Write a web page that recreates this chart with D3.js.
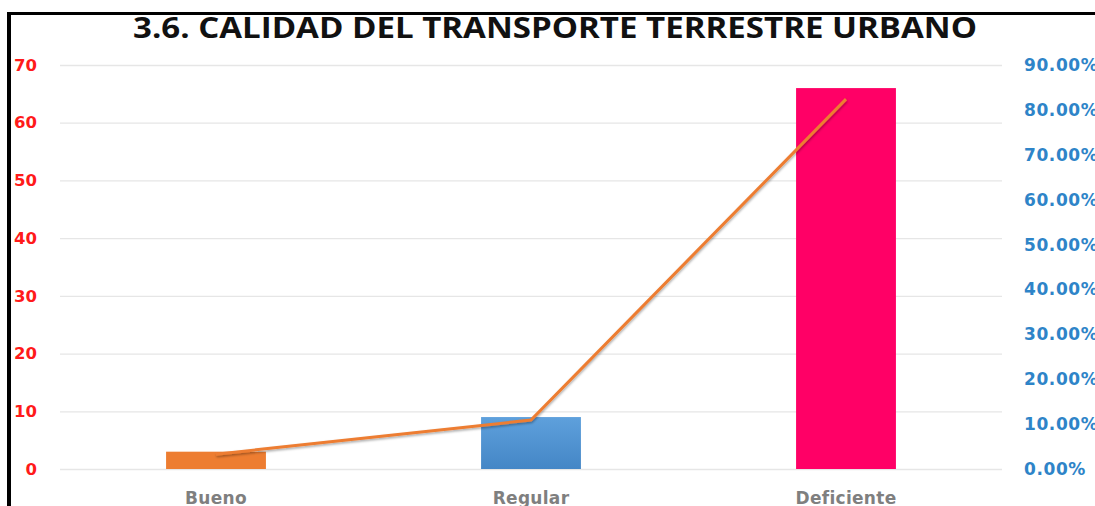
<!DOCTYPE html>
<html>
<head>
<meta charset="utf-8">
<script src="https://cdn.jsdelivr.net/npm/d3@7"></script>
<style>
  body { margin: 0; background: #fff; }
  svg { display: block; }
</style>
</head>
<body>
<svg id="chart"></svg>
<script>
// data
var categories = ["Bueno", "Regular", "Deficiente"];
var counts = [3, 9, 66];
var percents = [0.033, 0.109, 0.824];
var leftTicks = [0, 10, 20, 30, 40, 50, 60, 70];
var rightTicks = [0, 0.1, 0.2, 0.3, 0.4, 0.5, 0.6, 0.7, 0.8, 0.9];
var barColors = ["#ED7D31", "url(#blueGrad)", "#FF0066"];

var width = 1095, height = 506;
var svg = d3.select("#chart").attr("width", width).attr("height", height);

var defs = svg.append("defs");
var grad = defs.append("linearGradient").attr("id", "blueGrad")
  .attr("x1", 0).attr("y1", 0).attr("x2", 0).attr("y2", 1);
grad.append("stop").attr("offset", "0%").attr("stop-color", "#5EA0DC");
grad.append("stop").attr("offset", "100%").attr("stop-color", "#4486C6");

var shadow = defs.append("filter").attr("id", "shadow")
  .attr("x", "-10%").attr("y", "-10%").attr("width", "120%").attr("height", "130%");
shadow.append("feDropShadow").attr("dx", 0.5).attr("dy", 1.5)
  .attr("stdDeviation", 1).attr("flood-color", "#000").attr("flood-opacity", 0.35);

var x = d3.scaleBand().domain(categories).range([58.5, 1003.5]).paddingInner(0.683).paddingOuter(0.3415);
var yL = d3.scaleLinear().domain([0, 70]).range([469, 65]);
var yR = d3.scaleLinear().domain([0, 0.9]).range([469, 65]);

// gridlines
svg.append("g").selectAll("line").data(leftTicks).enter().append("line")
  .attr("x1", 60).attr("x2", 1002)
  .attr("y1", d => yL(d) + 0.5).attr("y2", d => yL(d) + 0.5)
  .attr("stroke", "#e6e6e6").attr("stroke-width", 1.3);

// left axis
var leftAxis = svg.append("g").attr("transform", "translate(37,0)")
  .call(d3.axisLeft(yL).tickValues(leftTicks).tickSize(0).tickPadding(0));
leftAxis.select(".domain").remove();
leftAxis.selectAll("text")
  .attr("fill", "#FF1A1A").attr("font-family", "'DejaVu Sans', sans-serif")
  .attr("font-weight", "bold").attr("font-size", "16.5px");

// right axis
var rightAxis = svg.append("g").attr("transform", "translate(1024,0)")
  .call(d3.axisRight(yR).tickValues(rightTicks).tickSize(0).tickPadding(0)
    .tickFormat(d => (d * 100).toFixed(2) + "%"));
rightAxis.select(".domain").remove();
rightAxis.selectAll("text")
  .attr("fill", "#2E84C8").attr("font-family", "'DejaVu Sans', sans-serif")
  .attr("font-weight", "bold").attr("font-size", "17px")
  .attr("letter-spacing", "0.6px");

// bars
svg.append("g").selectAll("rect").data(counts).enter().append("rect")
  .attr("x", (d, i) => x(categories[i]))
  .attr("y", d => yL(d))
  .attr("width", x.bandwidth())
  .attr("height", d => yL(0) - yL(d))
  .attr("fill", (d, i) => barColors[i]);

// x labels
svg.append("g").selectAll("text").data(categories).enter().append("text")
  .attr("x", d => x(d) + x.bandwidth() / 2)
  .attr("y", 504)
  .attr("text-anchor", "middle")
  .attr("fill", "#7F7F7F")
  .attr("font-family", "'DejaVu Sans', sans-serif")
  .attr("font-weight", "bold").attr("font-size", "17px")
  .attr("letter-spacing", "0.3px")
  .text(d => d);

// percentage line
var line = d3.line()
  .x((d, i) => x(categories[i]) + x.bandwidth() / 2)
  .y(d => yR(d));
svg.append("path").datum(percents)
  .attr("d", line)
  .attr("fill", "none")
  .attr("stroke", "#ED7D31")
  .attr("stroke-width", 3)
  .attr("filter", "url(#shadow)");

// title
svg.append("text")
  .attr("x", 555).attr("y", 38)
  .attr("text-anchor", "middle")
  .attr("font-family", "'Open Sans', sans-serif")
  .attr("font-weight", "bold").attr("font-size", "29px")
  .attr("fill", "#111")
  .attr("textLength", 844).attr("lengthAdjust", "spacingAndGlyphs")
  .text("3.6. CALIDAD DEL TRANSPORTE TERRESTRE URBANO");

// frame
svg.append("line").attr("x1", 7).attr("x2", 1095).attr("y1", 13.5).attr("y2", 13.5)
  .attr("stroke", "#000").attr("stroke-width", 3);
svg.append("line").attr("x1", 9).attr("x2", 9).attr("y1", 12).attr("y2", 506)
  .attr("stroke", "#000").attr("stroke-width", 4);
</script>
</body>
</html>
